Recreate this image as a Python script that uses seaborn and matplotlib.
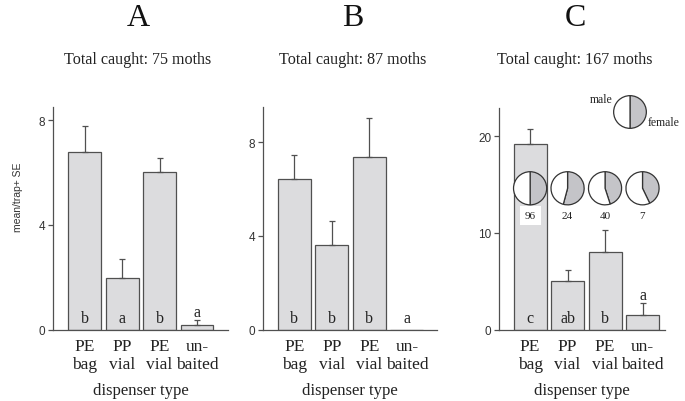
import numpy as np
import pandas as pd
import seaborn as sns
import matplotlib.pyplot as plt

# data
dispensers = ['PE\nbag', 'PP\nvial', 'PE\nvial', 'un-\nbaited']
panel_names = ['A', 'B', 'C']
totals = [75, 87, 167]

mean_A = [6.79, 1.98, 6.03, 0.19]
se_A = [0.97, 0.70, 0.51, 0.19]
letters_A = ['b', 'a', 'b', 'a']

mean_B = [6.43, 3.59, 7.38, 0.0]
se_B = [1.01, 1.03, 1.65, 0.0]
letters_B = ['b', 'b', 'b', 'a']

mean_C = [19.2, 4.97, 8.0, 1.45]
se_C = [1.55, 1.13, 2.24, 1.31]
letters_C = ['c', 'ab', 'b', 'a']

moths_C = [96, 24, 40, 7]
females_C = [48, 13, 18, 3]

yticks = [[0, 4, 8], [0, 4, 8], [0, 10, 20]]
ylims = [8.5, 9.5, 22.9]

sns.set_style('ticks')
plt.rcParams['font.family'] = ['Liberation Serif', 'DejaVu Serif']

bar_col = '#dcdcde'
edge_col = '#505050'
pie_grey = '#c4c4c8'
serif = ['Liberation Serif', 'DejaVu Serif']
sans = ['Liberation Sans', 'DejaVu Sans']

fig = plt.figure(figsize=(6.85, 4.02), dpi=100)
# axes boxes in pixels: left, right, top (bottom at y=330)
boxes = [(53, 228, 108), (263, 437, 108), (499, 665, 109)]
xlims = [(-0.85, 3.83), (-0.83, 3.8), (-0.83, 3.6)]
title_x = [138, 353, 575]

means = [mean_A, mean_B, mean_C]
ses = [se_A, se_B, se_C]
letters = [letters_A, letters_B, letters_C]


def draw_pie(pa, parts):
    pa.pie(parts, startangle=90, counterclock=False, colors=[pie_grey, 'white'],
           wedgeprops=dict(edgecolor='#333', linewidth=0.9))
    pa.set_xlim(-1.04, 1.04)
    pa.set_ylim(-1.04, 1.04)
    pa.set_aspect('equal')


axes = []
for k in range(3):
    l, r, t = boxes[k]
    ax = fig.add_axes([l / 685, 1 - 330.5 / 402, (r - l) / 685, (330.5 - t) / 402])
    axes.append(ax)
    df = pd.DataFrame({'dispenser': dispensers, 'mean': means[k], 'se': ses[k]})
    sns.barplot(data=df, x='dispenser', y='mean', ax=ax, color=bar_col,
                saturation=1, width=0.88, edgecolor=edge_col, linewidth=0.9,
                errorbar=None)
    xs = np.arange(len(dispensers))
    has_bar = df['mean'].to_numpy() > 0
    ax.errorbar(xs[has_bar], df['mean'][has_bar],
                yerr=[np.zeros(has_bar.sum()), df['se'][has_bar]],
                fmt='none', ecolor=edge_col, elinewidth=0.9, capsize=2.5, capthick=0.9)
    for i, (m, s, lt) in enumerate(zip(means[k], ses[k], letters[k])):
        if i == 3 and m > 0:
            ax.annotate(lt, (i, m + s), xytext=(0, 0), textcoords='offset points',
                        ha='center', va='bottom', fontsize=11.5, family=serif, color='#222')
        else:
            ax.annotate(lt, (i, 0), xytext=(0, 2.5), textcoords='offset points',
                        ha='center', va='bottom', fontsize=11.5, family=serif, color='#222')
    ax.set_xlim(*xlims[k])
    ax.set_ylim(0, ylims[k])
    ax.set_yticks(yticks[k])
    ax.set_yticklabels([str(v) for v in yticks[k]], family=sans, fontsize=8.5, color='#333')
    ax.set_xticks(xs)
    ax.set_xticklabels(dispensers, family=serif, fontsize=12.5, linespacing=1.17, color='#222')
    ax.tick_params(axis='x', length=0, pad=6)
    ax.tick_params(axis='y', length=3.5, width=0.9, color=edge_col, pad=2)
    ax.set_xlabel('dispenser type', family=serif, fontsize=12, color='#222', labelpad=7)
    ax.set_ylabel('')
    sns.despine(ax=ax)
    for sp in ['left', 'bottom']:
        ax.spines[sp].set_color(edge_col)
        ax.spines[sp].set_linewidth(0.9)
    fig.text(title_x[k] / 685, 1 - 19 / 402, panel_names[k], ha='center', va='center',
             fontsize=23, family=serif, color='#111')
    fig.text(title_x[k] / 685, 1 - 60 / 402, f'Total caught: {totals[k]} moths',
             ha='center', va='center', fontsize=11.6, family=serif, color='#222')

axes[0].set_ylabel('mean/trap+ SE', family=sans, fontsize=7.5, color='#333')
axes[0].yaxis.set_label_coords(-0.17, 0.6)

# sex ratio pies in panel C
axC = axes[2]
for i, (n, f) in enumerate(zip(moths_C, females_C)):
    pa = axC.inset_axes([i - 0.46, 14.6 - 1.8, 0.92, 3.6], transform=axC.transData)
    draw_pie(pa, [f, n - f])
    box = dict(facecolor='white', edgecolor='none', pad=3.5) if i == 0 else None
    axC.text(i, 11.8, str(n), ha='center', va='center', fontsize=8, family=serif,
             color='#222', bbox=box)

# legend pie
lp = fig.add_axes([(630 - 17) / 685, 1 - (113 + 17) / 402, 34 / 685, 34 / 402])
draw_pie(lp, [1, 1])
fig.text(613 / 685, 1 - 100 / 402, 'male', ha='right', va='center', fontsize=8.5,
         family=serif, color='#222')
fig.text(648 / 685, 1 - 123 / 402, 'female', ha='left', va='center', fontsize=8.5,
         family=serif, color='#222')

fig.savefig('out.png', dpi=100)
